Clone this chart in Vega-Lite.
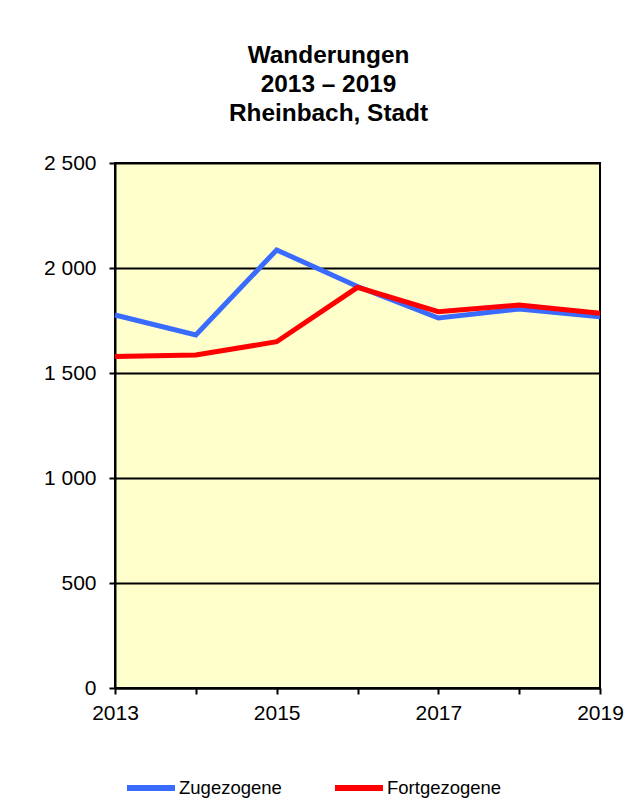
{
  "$schema": "https://vega.github.io/schema/vega-lite/v6.json",
  "width": 485,
  "height": 525,
  "autosize": {"type": "none"},
  "padding": {"left": 115, "top": 163, "right": 43, "bottom": 122},
  "background": "white",
  "title": {
    "text": ["Wanderungen", "2013 – 2019", "Rheinbach, Stadt"],
    "font": "Liberation Sans",
    "fontSize": 24.4,
    "fontWeight": "bold",
    "color": "black",
    "lineHeight": 28.8,
    "anchor": "middle",
    "frame": "group",
    "dx": -29,
    "offset": 26
  },
  "data": {
    "values": [
      {"Jahr": 2013, "Serie": "Zugezogene", "Personen": 1776},
      {"Jahr": 2014, "Serie": "Zugezogene", "Personen": 1681},
      {"Jahr": 2015, "Serie": "Zugezogene", "Personen": 2086},
      {"Jahr": 2016, "Serie": "Zugezogene", "Personen": 1912},
      {"Jahr": 2017, "Serie": "Zugezogene", "Personen": 1762},
      {"Jahr": 2018, "Serie": "Zugezogene", "Personen": 1805},
      {"Jahr": 2019, "Serie": "Zugezogene", "Personen": 1768},
      {"Jahr": 2013, "Serie": "Fortgezogene", "Personen": 1578},
      {"Jahr": 2014, "Serie": "Fortgezogene", "Personen": 1586},
      {"Jahr": 2015, "Serie": "Fortgezogene", "Personen": 1649},
      {"Jahr": 2016, "Serie": "Fortgezogene", "Personen": 1908},
      {"Jahr": 2017, "Serie": "Fortgezogene", "Personen": 1792},
      {"Jahr": 2018, "Serie": "Fortgezogene", "Personen": 1824},
      {"Jahr": 2019, "Serie": "Fortgezogene", "Personen": 1784}
    ]
  },
  "mark": {"type": "line", "strokeWidth": 5, "strokeJoin": "miter", "strokeCap": "butt"},
  "encoding": {
    "x": {
      "field": "Jahr",
      "type": "quantitative",
      "scale": {"domain": [2013, 2019], "nice": false, "zero": false},
      "axis": {
        "title": null,
        "values": [2013, 2014, 2015, 2016, 2017, 2018, 2019],
        "labelExpr": "datum.value % 2 == 1 ? '' + datum.value : ''",
        "grid": false,
        "domainColor": "black",
        "domainWidth": 2,
        "tickColor": "black",
        "tickWidth": 2,
        "tickSize": 6,
        "labelFont": "Liberation Sans",
        "labelFontSize": 21,
        "labelColor": "black",
        "labelPadding": 8,
        "labelFlush": false,
        "labelOverlap": false
      }
    },
    "y": {
      "field": "Personen",
      "type": "quantitative",
      "scale": {"domain": [0, 2500], "nice": false},
      "axis": {
        "title": null,
        "values": [0, 500, 1000, 1500, 2000, 2500],
        "labelExpr": "replace(format(datum.value, ','), ',', ' ')",
        "grid": true,
        "gridColor": "black",
        "gridWidth": 2,
        "gridOpacity": 1,
        "domainColor": "black",
        "domainWidth": 2,
        "tickColor": "black",
        "tickWidth": 2,
        "tickSize": 6,
        "labelFont": "Liberation Sans",
        "labelFontSize": 21,
        "labelColor": "black",
        "labelPadding": 13
      }
    },
    "color": {
      "field": "Serie",
      "type": "nominal",
      "scale": {"domain": ["Zugezogene", "Fortgezogene"], "range": ["#3A6BFF", "#FF0000"]},
      "legend": {
        "title": null,
        "orient": "none",
        "legendX": 9,
        "legendY": 598,
        "direction": "horizontal",
        "symbolType": "stroke",
        "symbolStrokeWidth": 6,
        "symbolSize": 2304,
        "labelFont": "Liberation Sans",
        "labelFontSize": 18.5,
        "labelColor": "black",
        "labelOffset": 1,
        "columnPadding": 41,
        "labelLimit": 300
      }
    }
  },
  "config": {
    "view": {"fill": "#FFFFCC", "stroke": "black", "strokeWidth": 2}
  }
}
